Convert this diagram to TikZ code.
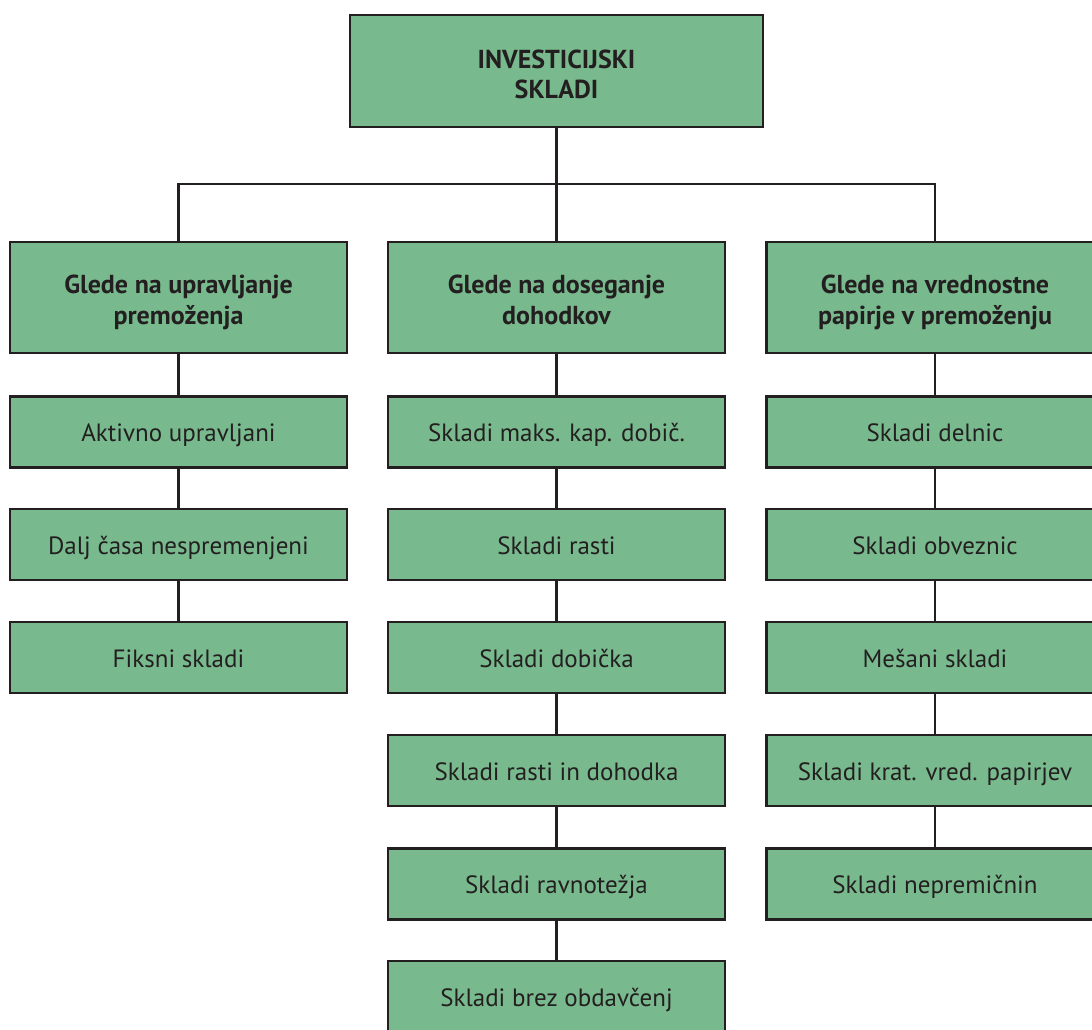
\documentclass[tikz,border=0pt]{standalone}
\usepackage{fontspec}
\setmainfont{PT Sans}
\definecolor{boxgreen}{HTML}{78BA8E}
\definecolor{inkdark}{HTML}{231F20}
\begin{document}
\begin{tikzpicture}[x=1pt,y=-1pt,
  box/.style={draw=inkdark,fill=boxgreen,line width=2.6pt,text=inkdark,
    minimum width=337pt,minimum height=71pt,align=center,inner sep=0pt,
    text height=24pt,text depth=5pt,
    font=\fontsize{25}{31}\selectfont},
  headbox/.style={box,minimum height=111pt,text height=60pt,text depth=7pt,
    font=\fontsize{26}{31}\selectfont\bfseries},
  link/.style={draw=inkdark,line width=2.6pt}]
\useasboundingbox (0,0) rectangle (1092,1030);
\clip (0,0) rectangle (1092,1030);
% root
\node[headbox,minimum width=413pt,minimum height=112pt,text height=62pt,text depth=6pt,
  font=\fontsize{26}{30}\selectfont\bfseries] (root) at (556.5,71) {INVESTICIJSKI\\SKLADI};
% category heads
\node[headbox] (h1) at (178.5,297.5) {Glede na upravljanje\\premoženja};
\node[headbox] (h2) at (556.5,297.5) {Glede na doseganje\\dohodkov};
\node[headbox] (h3) at (935,297.5) {Glede na vrednostne\\papirje v premoženju};
% first column
\node[box] (a1) at (178.5,432) {Aktivno upravljani};
\node[box] (a2) at (178.5,544.5) {Dalj časa nespremenjeni};
\node[box] (a3) at (178.5,657.5) {Fiksni skladi};
% second column
\node[box] (b1) at (556.5,432) {Skladi maks. kap. dobič.};
\node[box] (b2) at (556.5,544.5) {Skladi rasti};
\node[box] (b3) at (556.5,657.5) {Skladi dobička};
\node[box] (b4) at (556.5,770.5) {Skladi rasti in dohodka};
\node[box] (b5) at (556.5,884) {Skladi ravnotežja};
\node[box] (b6) at (556.5,996.5) {Skladi brez obdavčenj};
% third column
\node[box] (c1) at (935,432) {Skladi delnic};
\node[box] (c2) at (935,544.5) {Skladi obveznic};
\node[box] (c3) at (935,657.5) {Mešani skladi};
\node[box] (c4) at (935,770.5) {Skladi krat. vred. papirjev};
\node[box] (c5) at (935,884) {Skladi nepremičnin};
% connectors
\coordinate (bus) at (556.5,184);
\draw[link] (root.south) -- (h2.north);
\draw[link] (h1.north) |- (bus) -| (h3.north);
\draw[link] (h1) -- (a1) (a1) -- (a2) (a2) -- (a3);
\draw[link] (h2) -- (b1) (b1) -- (b2) (b2) -- (b3) (b3) -- (b4) (b4) -- (b5) (b5) -- (b6);
\draw[link] (h3) -- (c1) (c1) -- (c2) (c2) -- (c3) (c3) -- (c4) (c4) -- (c5);
\end{tikzpicture}
\end{document}
